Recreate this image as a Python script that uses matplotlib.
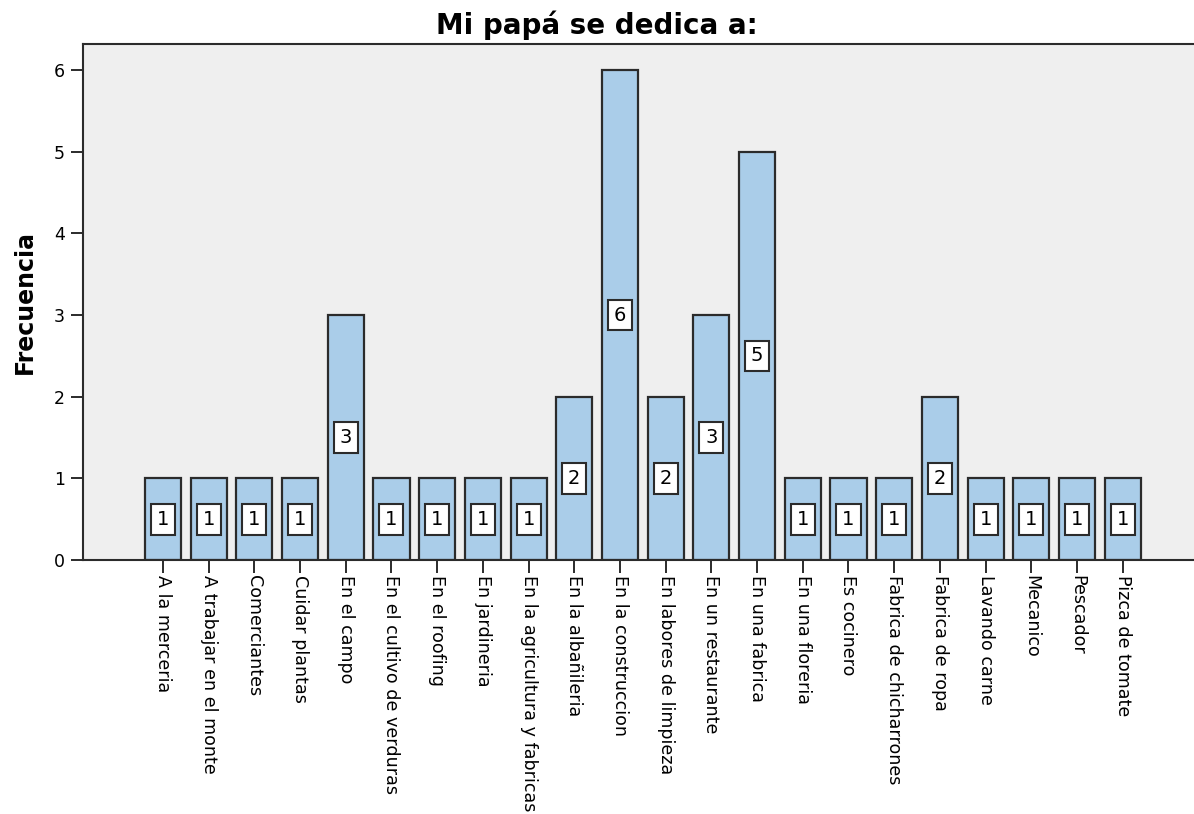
import numpy as np
import matplotlib
matplotlib.use('Agg')
import matplotlib.pyplot as plt

categorias = ['A la merceria', 'A trabajar en el monte', 'Comerciantes', 'Cuidar plantas',
              'En el campo', 'En el cultivo de verduras', 'En el roofing', 'En jardineria',
              'En la agricultura y fabricas', 'En la albañileria', 'En la construccion',
              'En labores de limpieza', 'En un restaurante', 'En una fabrica', 'En una floreria',
              'Es cocinero', 'Fabrica de chicharrones', 'Fabrica de ropa', 'Lavando carne',
              'Mecanico', 'Pescador', 'Pizca de tomate']
frecuencia = [1, 1, 1, 1, 3, 1, 1, 1, 1, 2, 6, 2, 3, 5, 1, 1, 1, 2, 1, 1, 1, 1]

fig = plt.figure(figsize=(11.94, 8.14), dpi=100)
ax = fig.add_axes([0.0695, 0.312, 0.9305, 0.634])
ax.set_facecolor('#efefef')

x = np.arange(len(categorias))
ax.bar(x, frecuencia, width=0.79, color='#aacde9', edgecolor='#2b2b2b', linewidth=1.6, zorder=2)

for i, v in enumerate(frecuencia):
    ax.text(i, v / 2, str(v), ha='center', va='center', fontsize=14, color='black', zorder=3,
            bbox=dict(boxstyle='square,pad=0.3', facecolor='white', edgecolor='#2b2b2b', linewidth=1.5))

ax.set_xlim(-1.75, 22.56)
ax.set_ylim(0, 6.32)
ax.set_yticks(range(0, 7))
ax.set_xticks(x)
ax.set_xticklabels(categorias, rotation=-90, fontsize=12.6, va='top', ha='center')
ax.tick_params(axis='y', labelsize=12.5, length=9, width=1.4, color='#2b2b2b', pad=4)
ax.tick_params(axis='x', length=9, width=1.4, color='#2b2b2b', pad=2)

ax.spines['right'].set_visible(False)
for s in ['top', 'left', 'bottom']:
    ax.spines[s].set_linewidth(1.5)
    ax.spines[s].set_color('#2b2b2b')

ax.set_ylabel('Frecuencia', fontsize=17, fontweight='bold', labelpad=12)
fig.text(0.5, 1 - 34 / 814, 'Mi papá se dedica a:', fontsize=20, fontweight='bold',
         ha='center', va='baseline')

plt.savefig('out.png', dpi=100)
